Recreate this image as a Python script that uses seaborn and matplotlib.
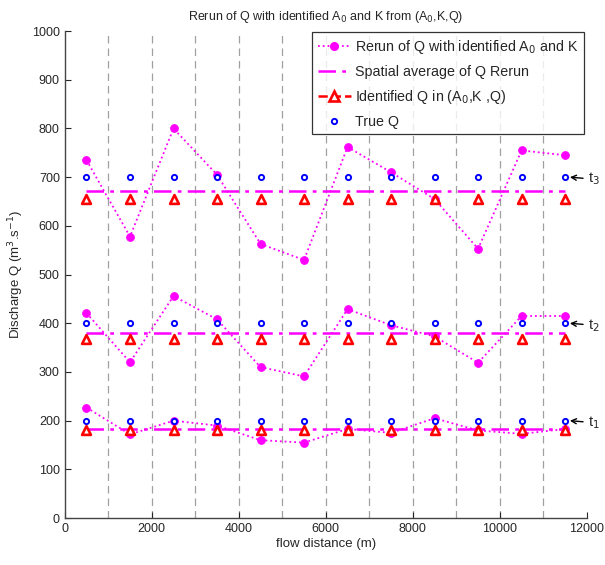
import matplotlib
matplotlib.use("Agg")
import matplotlib.pyplot as plt
from matplotlib.lines import Line2D
import seaborn as sns
import pandas as pd
import numpy as np

sns.set_style("ticks")
plt.rcParams['font.family'] = ['Liberation Sans', 'DejaVu Sans']

# ---- data ----
distance = [500, 1500, 2500, 3500, 4500, 5500, 6500, 7500, 8500, 9500, 10500, 11500]
rerun_t1 = [227, 172, 200, 190, 160, 155, 183, 175, 205, 180, 173, 183]
rerun_t2 = [421, 320, 456, 408, 310, 291, 429, 396, 373, 319, 415, 415]
rerun_t3 = [735, 578, 800, 705, 563, 530, 762, 710, 655, 553, 755, 745]
avg_t = [183, 380, 672]
identified_t = [180, 368, 655]
true_t = [200, 400, 700]
time_labels = ["t$_1$", "t$_2$", "t$_3$"]
grid_x = [1000, 2000, 3000, 4000, 5000, 6000, 7000, 8000, 9000, 10000, 11000]

fig = plt.figure(figsize=(6.05, 5.65), dpi=100)
ax = fig.add_axes([0.107, 0.083, 0.863, 0.862])

for gx in grid_x:
    ax.axvline(gx, color="#a0a0a0", lw=0.9, ls=(0, (6, 4)), zorder=0)

dashdot = (0, (7, 2.5, 1.5, 2.5))
reruns = [rerun_t1, rerun_t2, rerun_t3]
for i in range(3):
    df = pd.DataFrame({"x": distance, "rerun": reruns[i],
                       "avg": [avg_t[i]] * len(distance),
                       "ident": [identified_t[i]] * len(distance),
                       "true": [true_t[i]] * len(distance)})
    sns.lineplot(data=df, x="x", y="rerun", ax=ax, color="magenta", lw=1.3,
                 linestyle=":", marker="o", markersize=5.5, markeredgecolor="magenta",
                 zorder=3)
    sns.lineplot(data=df, x="x", y="avg", ax=ax, color="magenta", lw=1.8,
                 linestyle=dashdot, zorder=2)
    sns.scatterplot(data=df, x="x", y="ident", ax=ax, marker="^", s=40,
                    facecolor="white", edgecolor="red", linewidth=1.9, zorder=4)
    sns.scatterplot(data=df, x="x", y="true", ax=ax, marker="o", s=14,
                    facecolor="white", edgecolor="blue", linewidth=1.4, zorder=5)
    ax.annotate(time_labels[i], xy=(distance[-1] + 110, true_t[i]),
                xytext=(distance[-1] + 520, true_t[i] - 4),
                fontsize=10.5, va="center", ha="left", annotation_clip=False,
                arrowprops=dict(arrowstyle="->", lw=1.0, color="black",
                                shrinkA=1, shrinkB=0, mutation_scale=9))

ax.set_xlim(0, 12000)
ax.set_ylim(0, 1000)
ax.set_xticks(range(0, 12001, 2000))
ax.set_yticks(range(0, 1001, 100))
ax.tick_params(direction="in", length=4, labelsize=9, width=0.8)
for s in ["top", "right"]:
    ax.spines[s].set_visible(False)
for s in ["left", "bottom"]:
    ax.spines[s].set_color("#444444")
    ax.spines[s].set_linewidth(1.0)

ax.set_xlabel("flow distance (m)", fontsize=9.5, labelpad=2)
ax.set_ylabel("Discharge Q (m$^3$.s$^{-1}$)", fontsize=9.5, labelpad=4)
ax.set_title("Rerun of Q with identified A$_0$ and K from (A$_0$,K,Q)",
             fontsize=9, pad=8)

handles = [
    Line2D([], [], color="magenta", ls=":", lw=1.3, marker="o", markersize=5.5),
    Line2D([], [], color="magenta", ls=dashdot, lw=1.8),
    Line2D([], [], color="red", ls="--", lw=1.8, marker="^", markersize=6.5,
           markerfacecolor="white", markeredgewidth=1.9),
    Line2D([], [], color="blue", ls="none", marker="o", markersize=3.8,
           markerfacecolor="white", markeredgewidth=1.4),
]
labels = ["Rerun of Q with identified A$_0$ and K",
          "Spatial average of Q Rerun",
          "Identified Q in (A$_0$,K ,Q)",
          "True Q"]
leg = ax.legend(handles, labels, loc="upper right", bbox_to_anchor=(1.008, 1.012),
                fontsize=10.3, frameon=True, fancybox=False, edgecolor="black",
                handlelength=2.3, labelspacing=0.62, borderpad=0.4, handletextpad=0.3)
leg.get_frame().set_linewidth(0.9)

fig.savefig("out.png", dpi=100)
